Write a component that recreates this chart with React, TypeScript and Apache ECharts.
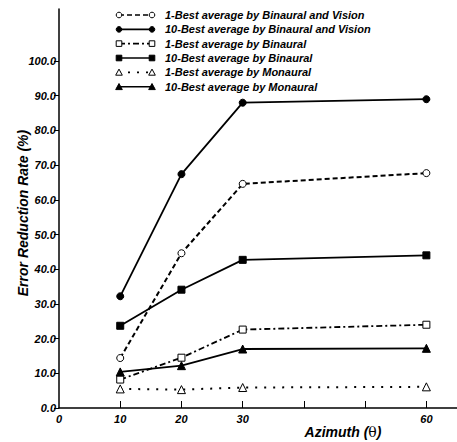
import React, { useEffect, useRef } from "react";
import * as echarts from "echarts";

const azimuths = [10, 20, 30, 60];
const seriesNames = [
  "1-Best average by Binaural and Vision",
  "10-Best average by Binaural and Vision",
  "1-Best average by Binaural",
  "10-Best average by Binaural",
  "1-Best average by Monaural",
  "10-Best average by Monaural",
];
const oneBestBinVision = [14.4, 44.6, 64.6, 67.7];
const tenBestBinVision = [32.2, 67.4, 88.0, 89.0];
const oneBestBinaural = [8.2, 14.5, 22.6, 24.0];
const tenBestBinaural = [23.7, 34.1, 42.7, 44.0];
const oneBestMonaural = [5.5, 5.3, 5.9, 6.1];
const tenBestMonaural = [10.4, 12.2, 17.0, 17.2];
const xTickLabels = [0, 10, 20, 30, 60];
const yTickLabels = [0, 10, 20, 30, 40, 50, 60, 70, 80, 90, 100];

const FONT = '"Liberation Sans", Arial, sans-serif';

type Sty = { symbol: string; filled: boolean; dash: number[] | "solid"; width: number };
const styles: Sty[] = [
  { symbol: "circle", filled: false, dash: [5, 3], width: 2 },
  { symbol: "circle", filled: true, dash: "solid", width: 1.8 },
  { symbol: "rect", filled: false, dash: [6, 3, 2, 3], width: 1.8 },
  { symbol: "rect", filled: true, dash: "solid", width: 1.8 },
  { symbol: "triangle", filled: false, dash: [2, 7], width: 2 },
  { symbol: "triangle", filled: true, dash: "solid", width: 1.8 },
];
const allValues = [
  oneBestBinVision,
  tenBestBinVision,
  oneBestBinaural,
  tenBestBinaural,
  oneBestMonaural,
  tenBestMonaural,
];

function markerGraphic(sym: string, filled: boolean, cx: number, cy: number, r: number) {
  const style = { fill: filled ? "#000" : "#fff", stroke: "#000", lineWidth: 1 };
  if (sym === "circle") return { type: "circle", shape: { cx, cy, r }, style, z: 10 };
  if (sym === "rect")
    return { type: "rect", shape: { x: cx - r, y: cy - r, width: 2 * r, height: 2 * r }, style, z: 10 };
  return {
    type: "polygon",
    shape: { points: [[cx, cy - r - 0.5], [cx + r + 0.5, cy + r], [cx - r - 0.5, cy + r]] },
    style,
    z: 10,
  };
}

export default function App() {
  const ref = useRef<HTMLDivElement>(null);
  useEffect(() => {
    if (!ref.current) return;
    const chart = echarts.init(ref.current, undefined, { renderer: "svg" });
    const legendRows = [15, 29.4, 43.6, 58, 72.4, 86.8];
    const graphics: any[] = [];
    seriesNames.forEach((name, i) => {
      const y = legendRows[i];
      const st = styles[i];
      graphics.push({
        type: "line",
        shape: { x1: 119, y1: y, x2: 152, y2: y },
        style: { stroke: "#000", lineWidth: 1.6, lineDash: st.dash === "solid" ? null : st.dash },
      });
      graphics.push(markerGraphic(st.symbol, st.filled, 119, y, 2.8));
      graphics.push(markerGraphic(st.symbol, st.filled, 152, y, 2.8));
      graphics.push({
        type: "text",
        x: 165,
        y,
        style: {
          text: name,
          font: `italic bold 11px ${FONT}`,
          fill: "#000",
          verticalAlign: "middle",
        },
      });
    });
    graphics.push({
      type: "text",
      x: 23,
      y: 213,
      rotation: Math.PI / 2,
      style: {
        text: "Error Reduction Rate (%)",
        font: `italic bold 14px ${FONT}`,
        fill: "#000",
        align: "center",
        verticalAlign: "middle",
      },
    });
    graphics.push({
      type: "text",
      x: 343,
      y: 432,
      style: {
        text: "{a|Azimuth (}{b|θ}{a|)}",
        rich: {
          a: { font: `italic bold 14px ${FONT}`, fill: "#000" },
          b: { font: `14px "DejaVu Serif", serif`, fill: "#000" },
        },
        align: "center",
        verticalAlign: "middle",
      },
    });

    chart.setOption({
      animation: false,
      backgroundColor: "#fff",
      grid: { left: 59, right: 0, top: 9, bottom: 34, containLabel: false },
      xAxis: {
        type: "value",
        min: 0,
        max: 65,
        interval: 10,
        axisLine: { lineStyle: { color: "#000", width: 1.5 } },
        axisTick: {
          inside: true,
          length: 7,
          lineStyle: { color: "#000", width: 1 },
          customValues: [10, 20, 30, 40, 50, 60],
        },
        axisLabel: {
          customValues: xTickLabels,
          margin: 5,
          color: "#000",
          fontFamily: FONT,
          fontStyle: "italic",
          fontWeight: "bold",
          fontSize: 11,
        },
        splitLine: { show: false },
      },
      yAxis: {
        type: "value",
        min: 0,
        max: 115,
        interval: 10,
        axisLine: { show: true, lineStyle: { color: "#000", width: 1.5 } },
        axisTick: {
          show: true,
          length: 5,
          lineStyle: { color: "#000", width: 1 },
          customValues: yTickLabels,
        },
        axisLabel: {
          customValues: yTickLabels,
          margin: 3,
          color: "#000",
          fontFamily: FONT,
          fontStyle: "italic",
          fontWeight: "bold",
          fontSize: 11,
          formatter: (v: number) => v.toFixed(1),
        },
        splitLine: { show: false },
      },
      series: allValues.map((vals, i) => {
        const st = styles[i];
        return {
          name: seriesNames[i],
          type: "line",
          data: azimuths.map((x, j) => [x, vals[j]]),
          symbol: st.symbol,
          symbolSize: st.symbol === "triangle" ? 8 : 7,
          showSymbol: true,
          lineStyle: { color: "#000", width: st.width, type: st.dash },
          itemStyle: {
            color: st.filled ? "#000" : "#fff",
            borderColor: "#000",
            borderWidth: 1,
          },
          z: 2,
        };
      }),
      graphic: graphics,
    });
    return () => chart.dispose();
  }, []);
  return (
    <div
      ref={ref}
      style={{ position: "fixed", left: 0, top: 0, width: 457, height: 442 }}
    />
  );
}
